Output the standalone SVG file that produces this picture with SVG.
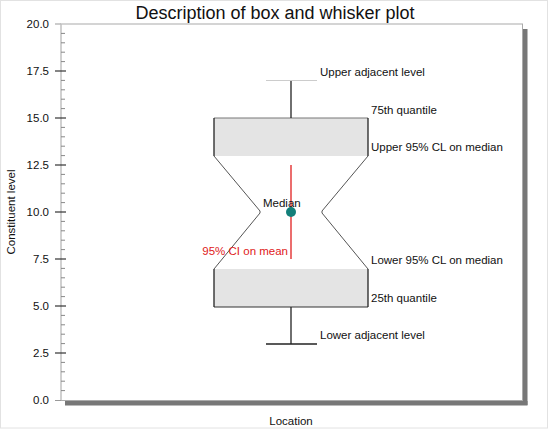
<svg xmlns="http://www.w3.org/2000/svg" width="549" height="429" viewBox="0 0 549 429">
<style>
text{font-family:"Liberation Sans",Arial,sans-serif;fill:#111}
.lab{font-size:11.5px}
.ax{font-size:11.5px;text-anchor:end}
.minor{stroke:#888;stroke-width:1}
.major{stroke:#333;stroke-width:1.2}
.blk{stroke:#222;stroke-width:1.3;fill:none}
.notch{stroke:#555;stroke-width:1;fill:none}
</style>
<rect x="0" y="0" width="549" height="429" fill="#fff"/>
<rect x="0.5" y="0.5" width="547" height="427.5" fill="none" stroke="#e2e2e2"/>
<text x="275" y="19" font-size="18" text-anchor="middle">Description of box and whisker plot</text>
<g id="frame">
<rect x="523" y="29" width="4.5" height="376" fill="#777"/>
<rect x="65" y="401" width="462.5" height="4.5" fill="#777"/>
<rect x="61" y="24" width="461.5" height="376.5" fill="#fff" stroke="#aaa" stroke-width="1"/>
<line x1="55" y1="24" x2="61" y2="24" stroke="#999"/>
<line x1="55" y1="400.5" x2="61" y2="400.5" stroke="#999"/>
<line x1="61" y1="24" x2="61" y2="400" stroke="#ccc"/>
</g>
<g id="yaxis">
<g class="minor">
<line x1="61" y1="33.4" x2="65" y2="33.4"/><line x1="61" y1="42.8" x2="65" y2="42.8"/><line x1="61" y1="52.2" x2="65" y2="52.2"/><line x1="61" y1="61.6" x2="65" y2="61.6"/>
<line x1="61" y1="80.4" x2="65" y2="80.4"/><line x1="61" y1="89.8" x2="65" y2="89.8"/><line x1="61" y1="99.2" x2="65" y2="99.2"/><line x1="61" y1="108.6" x2="65" y2="108.6"/>
<line x1="61" y1="127.4" x2="65" y2="127.4"/><line x1="61" y1="136.8" x2="65" y2="136.8"/><line x1="61" y1="146.2" x2="65" y2="146.2"/><line x1="61" y1="155.6" x2="65" y2="155.6"/>
<line x1="61" y1="174.4" x2="65" y2="174.4"/><line x1="61" y1="183.8" x2="65" y2="183.8"/><line x1="61" y1="193.2" x2="65" y2="193.2"/><line x1="61" y1="202.6" x2="65" y2="202.6"/>
<line x1="61" y1="221.4" x2="65" y2="221.4"/><line x1="61" y1="230.8" x2="65" y2="230.8"/><line x1="61" y1="240.2" x2="65" y2="240.2"/><line x1="61" y1="249.6" x2="65" y2="249.6"/>
<line x1="61" y1="268.4" x2="65" y2="268.4"/><line x1="61" y1="277.8" x2="65" y2="277.8"/><line x1="61" y1="287.2" x2="65" y2="287.2"/><line x1="61" y1="296.6" x2="65" y2="296.6"/>
<line x1="61" y1="315.4" x2="65" y2="315.4"/><line x1="61" y1="324.8" x2="65" y2="324.8"/><line x1="61" y1="334.2" x2="65" y2="334.2"/><line x1="61" y1="343.6" x2="65" y2="343.6"/>
<line x1="61" y1="362.4" x2="65" y2="362.4"/><line x1="61" y1="371.8" x2="65" y2="371.8"/><line x1="61" y1="381.2" x2="65" y2="381.2"/><line x1="61" y1="390.6" x2="65" y2="390.6"/>
</g>
<g class="major">
<line x1="55" y1="71" x2="66" y2="71"/><line x1="55" y1="118" x2="66" y2="118"/><line x1="55" y1="165" x2="66" y2="165"/><line x1="55" y1="212" x2="66" y2="212"/>
<line x1="55" y1="259" x2="66" y2="259"/><line x1="55" y1="306" x2="66" y2="306"/><line x1="55" y1="353" x2="66" y2="353"/>
</g>
<text class="ax" x="49" y="28">20.0</text>
<text class="ax" x="49" y="75">17.5</text>
<text class="ax" x="49" y="122">15.0</text>
<text class="ax" x="49" y="169">12.5</text>
<text class="ax" x="49" y="216">10.0</text>
<text class="ax" x="49" y="263">7.5</text>
<text class="ax" x="49" y="310">5.0</text>
<text class="ax" x="49" y="357">2.5</text>
<text class="ax" x="49" y="404">0.0</text>
<text class="lab" transform="translate(15,212) rotate(-90)" text-anchor="middle">Constituent level</text>
</g>
<text class="lab" x="291" y="425" text-anchor="middle">Location</text>
<g id="box">
<rect x="214" y="118" width="154" height="38" fill="#e4e4e4"/>
<rect x="214" y="269" width="154" height="38" fill="#e4e4e4"/>
<line x1="214" y1="118" x2="368" y2="118" stroke="#777" stroke-width="1"/>
<line x1="214" y1="307" x2="368" y2="307" stroke="#333" stroke-width="1.2"/>
<line class="blk" x1="214" y1="118" x2="214" y2="156"/>
<line class="blk" x1="368" y1="118" x2="368" y2="156"/>
<line class="blk" x1="214" y1="269" x2="214" y2="307"/>
<line class="blk" x1="368" y1="269" x2="368" y2="307"/>
<polyline class="notch" points="214,156 260,211 260,213 214,269"/>
<polyline class="notch" points="368,156 322,211 322,213 368,269"/>
</g>
<g id="whiskers">
<line class="blk" x1="291" y1="118" x2="291" y2="80.5"/>
<line x1="266" y1="80.5" x2="317" y2="80.5" stroke="#ccc" stroke-width="1"/>
<line class="blk" x1="291" y1="307" x2="291" y2="344"/>
<line class="blk" x1="266" y1="344" x2="317" y2="344"/>
</g>
<g id="mean">
<line x1="291" y1="165" x2="291" y2="259" stroke="#e02020" stroke-width="1.3"/>
<circle cx="291" cy="212" r="5" fill="#137f7a"/>
</g>
<g id="labels">
<text class="lab" x="320" y="76">Upper adjacent level</text>
<text class="lab" x="371" y="114">75th quantile</text>
<text class="lab" x="371" y="151">Upper 95% CL on median</text>
<text class="lab" x="263" y="207">Median</text>
<text class="lab" x="288" y="255" text-anchor="end" style="fill:#e02020">95% CI on mean</text>
<text class="lab" x="371" y="264">Lower 95% CL on median</text>
<text class="lab" x="371" y="302">25th quantile</text>
<text class="lab" x="320" y="339">Lower adjacent level</text>
</g>
</svg>
